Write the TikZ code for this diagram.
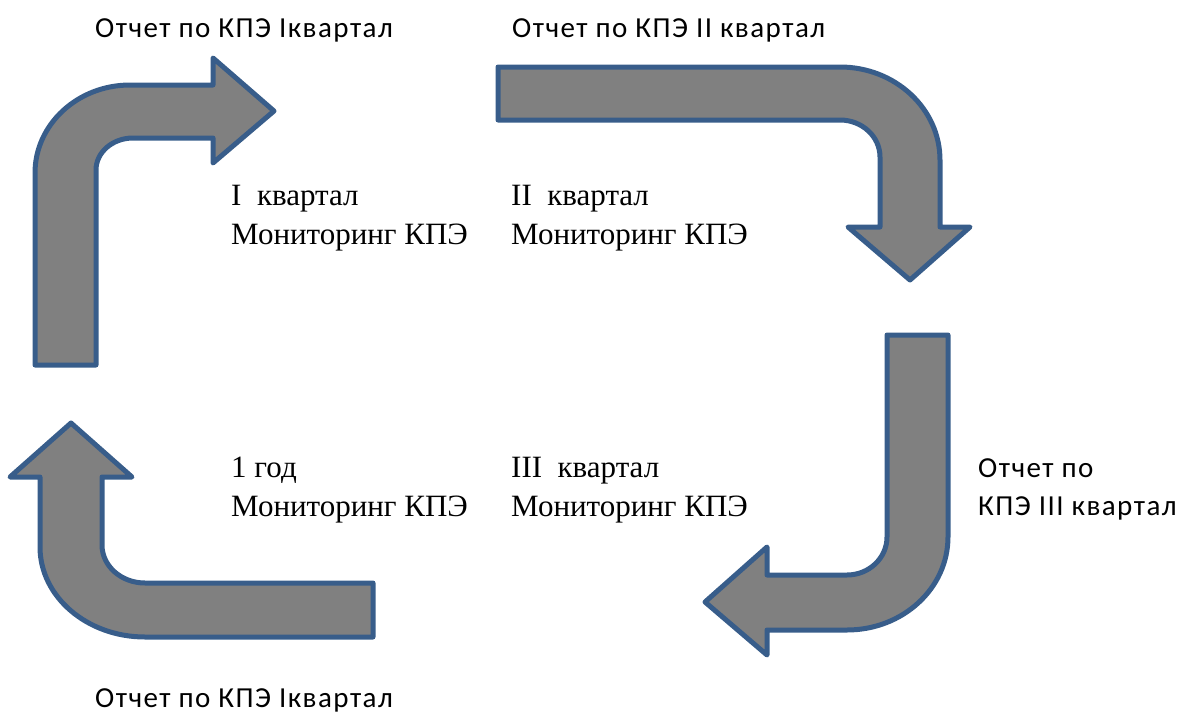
\documentclass[tikz,border=0pt]{standalone}
\usepackage{fontspec}
\setmainfont{Liberation Serif}
\newfontfamily\reportfont[LetterSpace=5]{Carlito}
\usepackage{xcolor}
\definecolor{arrowblue}{RGB}{56,93,138}
\definecolor{arrowgray}{RGB}{128,128,128}

\begin{document}
\begin{tikzpicture}[x=1pt,y=-1pt,
  bentarrow/.style={draw=arrowblue, fill=arrowgray, line width=5pt, line join=round},
  report/.style={anchor=base west, inner sep=0pt, align=left,
    font=\reportfont\fontsize{29}{38}\selectfont},
  quarter/.style={anchor=base west, inner sep=0pt, align=left,
    font=\fontsize{31}{39}\selectfont}]

\useasboundingbox (0,0) rectangle (1179,715);

% Arrow 1: up, then right
\draw[bentarrow] (35,365) -- (35,173)
  arc[start angle=180, end angle=270, x radius=95, y radius=88]
  -- (213,85) -- (213,58) -- (274,111) -- (213,163) -- (213,138) -- (133,138)
  arc[start angle=270, end angle=180, x radius=37, y radius=32]
  -- (96,365) -- cycle;

% Arrow 2: right, then down
\draw[bentarrow] (498,67) -- (840,67)
  arc[start angle=-90, end angle=0, x radius=100, y radius=93]
  -- (940,227) -- (970,227) -- (910,280) -- (848,227) -- (880,227) -- (880,157)
  arc[start angle=0, end angle=-90, x radius=40, y radius=37]
  -- (498,120) -- cycle;

% Arrow 3: down, then left
\draw[bentarrow] (887,335) -- (948,335) -- (948,537)
  arc[start angle=0, end angle=90, x radius=101, y radius=93]
  -- (767,630) -- (767,655) -- (705,602) -- (767,547) -- (767,575) -- (847,575)
  arc[start angle=90, end angle=0, x radius=40, y radius=38]
  -- cycle;

% Arrow 4: left, then up
\draw[bentarrow] (373,583) -- (373,637) -- (145,637)
  arc[start angle=90, end angle=180, x radius=105, y radius=90]
  -- (40,477) -- (10,477) -- (71,423) -- (132,477) -- (102,477) -- (102,545)
  arc[start angle=180, end angle=90, x radius=43, y radius=38]
  -- cycle;

% Reports (base = last line)
\node[report] (rep1) at (95,37) {Отчет по КПЭ Iквартал};
\node[report] (rep2) at (512,37) {Отчет по КПЭ II квартал};
\node[report] (rep3) at (978,515) {Отчет по\\КПЭ III квартал};
\node[report] (rep4) at (95,707) {Отчет по КПЭ Iквартал};

% Monitoring (base = last line)
\node[quarter] (q1) at (231,244) {I\ \ квартал\\Мониторинг КПЭ};
\node[quarter] (q2) at (511,244) {II\ \ квартал\\Мониторинг КПЭ};
\node[quarter] (q3) at (511,516) {III\ \ квартал\\Мониторинг КПЭ};
\node[quarter] (year) at (231,516) {1 год\\Мониторинг КПЭ};

\end{tikzpicture}
\end{document}
